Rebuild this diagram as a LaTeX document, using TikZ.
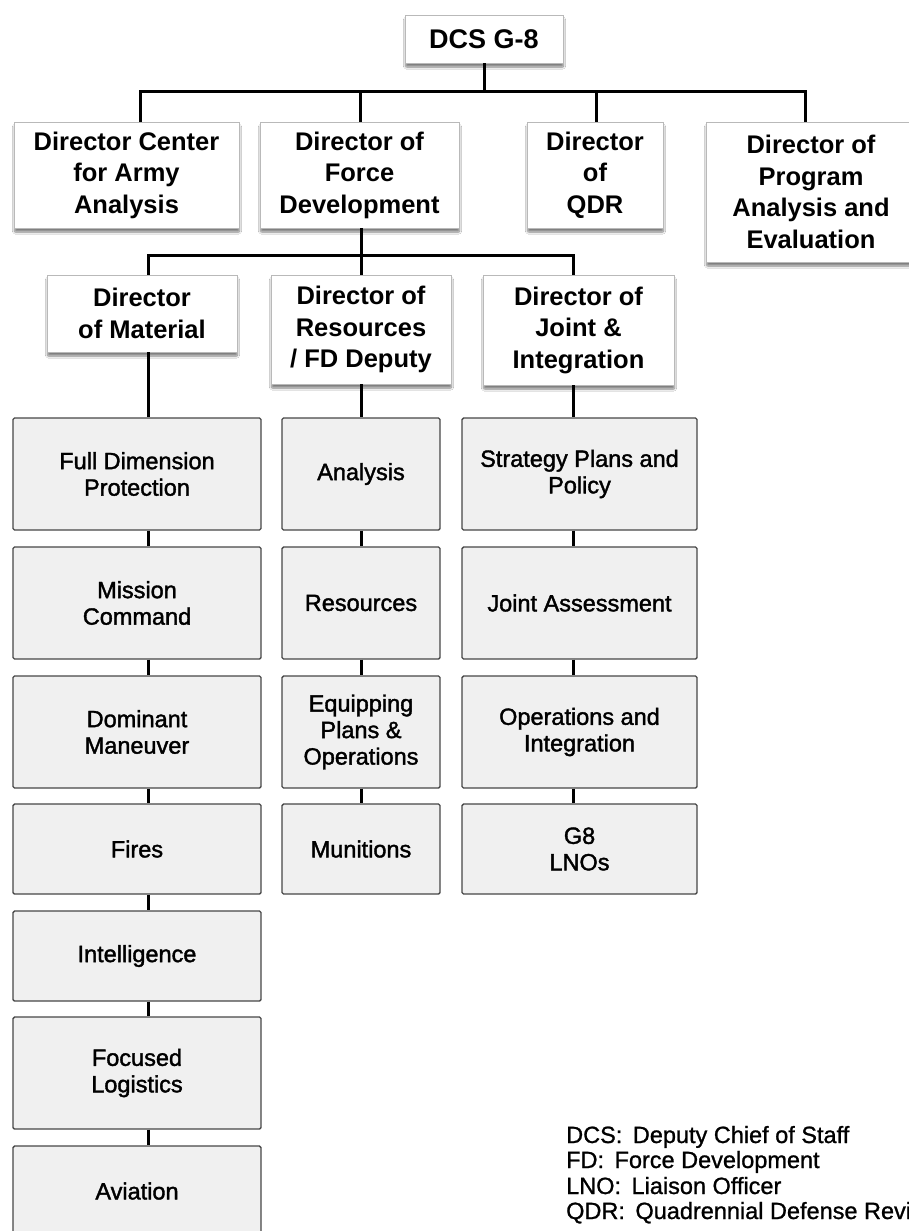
\documentclass[tikz,border=0pt]{standalone}
\usepackage{fontspec}
\setmainfont{Liberation Sans}
\newfontfamily\unitfont[FakeBold=1.6]{Liberation Sans}
\newfontfamily\notefont[FakeBold=1.0]{Liberation Sans}
\usetikzlibrary{shadows.blur}

\begin{document}
\begin{tikzpicture}[x=1pt,y=-1pt,
  dims/.style 2 args={minimum width=#1pt, minimum height=#2pt},
  head/.style={draw=gray!55, line width=0.6pt, fill=white, align=center, inner sep=0pt,
    font=\bfseries\fontsize{25.5}{31.5}\selectfont,
    blur shadow={shadow xshift=0.5pt, shadow yshift=-4pt, shadow blur steps=8,
      shadow blur extra rounding=1pt, shadow opacity=50}},
  unit/.style={draw=black!72, line width=1.4pt, fill=black!6, rounded corners=1.5pt,
    align=center, inner sep=0pt, font=\unitfont\fontsize{23.5}{26.5}\selectfont},
  conn/.style={line width=3pt, black, line join=miter},
  note/.style={anchor=base west, inner sep=0pt, font=\notefont\fontsize{23.5}{25}\selectfont}]

% page area
\clip (0,0) rectangle (909,1231);
\fill[white] (0,0) rectangle (909,1231);

% top office
\node[head, dims={158}{48}, font=\bfseries\fontsize{27}{32}\selectfont] (dcs) at (484,39) {DCS G-8};

% first tier directors
\node[head, dims={225}{106}] (caa) at (126.5,175) {Director Center\\for Army\\Analysis};
\node[head, dims={199}{106}] (dfd) at (359.5,175) {Director of\\Force\\Development};
\node[head, dims={136}{106}] (qdr) at (595,175) {Director\\of\\QDR};
\node[head, dims={210}{140}] (pae) at (811,192) {Director of\\Program\\Analysis and\\Evaluation};

% second tier directors
\node[head, dims={190}{77}]  (mat) at (142,313.5) {Director\\of Material};
\node[head, dims={180}{109}] (res) at (361,329.5) {Director of\\Resources\\/ FD Deputy};
\node[head, dims={191}{110}] (jnt) at (578.5,330) {Director of\\Joint \&\\Integration};

% material divisions
\node[unit, dims={248}{112}] (m1) at (137,474)  {Full Dimension\\Protection};
\node[unit, dims={248}{112}] (m2) at (137,603)  {Mission\\Command};
\node[unit, dims={248}{112}] (m3) at (137,732)  {Dominant\\Maneuver};
\node[unit, dims={248}{90}]  (m4) at (137,849)  {Fires};
\node[unit, dims={248}{90}]  (m5) at (137,956)  {Intelligence};
\node[unit, dims={248}{112}] (m6) at (137,1073) {Focused\\Logistics};
\node[unit, dims={248}{90}]  (m7) at (137,1191) {Aviation};

% resources divisions
\node[unit, dims={158}{112}] (r1) at (361,474) {Analysis};
\node[unit, dims={158}{112}] (r2) at (361,603) {Resources};
\node[unit, dims={158}{112}] (r3) at (361,732) {Equipping\\Plans \&\\Operations};
\node[unit, dims={158}{90}]  (r4) at (361,849) {Munitions};

% joint divisions
\node[unit, dims={235}{112}] (j1) at (579.5,474) {Strategy Plans and\\Policy};
\node[unit, dims={235}{112}] (j2) at (579.5,603) {Joint Assessment};
\node[unit, dims={235}{112}] (j3) at (579.5,732) {Operations and\\Integration};
\node[unit, dims={235}{90}]  (j4) at (579.5,849) {G8\\LNOs};

% connector rails
\coordinate (bus1) at (0,91);
\coordinate (bus2) at (0,255);
\coordinate (t1) at (140,0);
\coordinate (t2) at (360,0);
\coordinate (t3) at (596,0);
\coordinate (t4) at (805,0);
\coordinate (c1) at (148,0);
\coordinate (c2) at (361,0);
\coordinate (c3) at (573,0);

% first tier
\draw[conn] (dcs.south) -- (dcs.south |- bus1);
\draw[conn] (caa.north -| t1) -- (bus1 -| t1) -- (bus1 -| t4) -- (pae.north -| t4);
\draw[conn] (dfd.north -| t2) -- (bus1 -| t2);
\draw[conn] (qdr.north -| t3) -- (bus1 -| t3);

% second tier
\draw[conn] (dfd.south -| c2) -- (res.north -| c2);
\draw[conn] (mat.north -| c1) -- (bus2 -| c1) -- (bus2 -| c3) -- (jnt.north -| c3);

% division chains
\draw[conn] (mat.south -| c1) -- (m1.north -| c1);
\foreach \a/\b in {m1/m2, m2/m3, m3/m4, m4/m5, m5/m6, m6/m7}
  \draw[conn] (\a.south -| c1) -- (\b.north -| c1);
\draw[conn] (res.south -| c2) -- (r1.north -| c2);
\foreach \a/\b in {r1/r2, r2/r3, r3/r4}
  \draw[conn] (\a.south -| c2) -- (\b.north -| c2);
\draw[conn] (jnt.south -| c3) -- (j1.north -| c3);
\foreach \a/\b in {j1/j2, j2/j3, j3/j4}
  \draw[conn] (\a.south -| c3) -- (\b.north -| c3);

% abbreviations
\node[note] (n1) at (566,1143) {DCS:\hspace{4pt} Deputy Chief of Staff};
\node[note] (n2) at (566,1168) {FD:\hspace{4pt} Force Development};
\node[note] (n3) at (566,1194) {LNO:\hspace{4pt} Liaison Officer};
\node[note] (n4) at (566,1219) {QDR:\hspace{4pt} Quadrennial Defense Review};
\end{tikzpicture}
\end{document}
